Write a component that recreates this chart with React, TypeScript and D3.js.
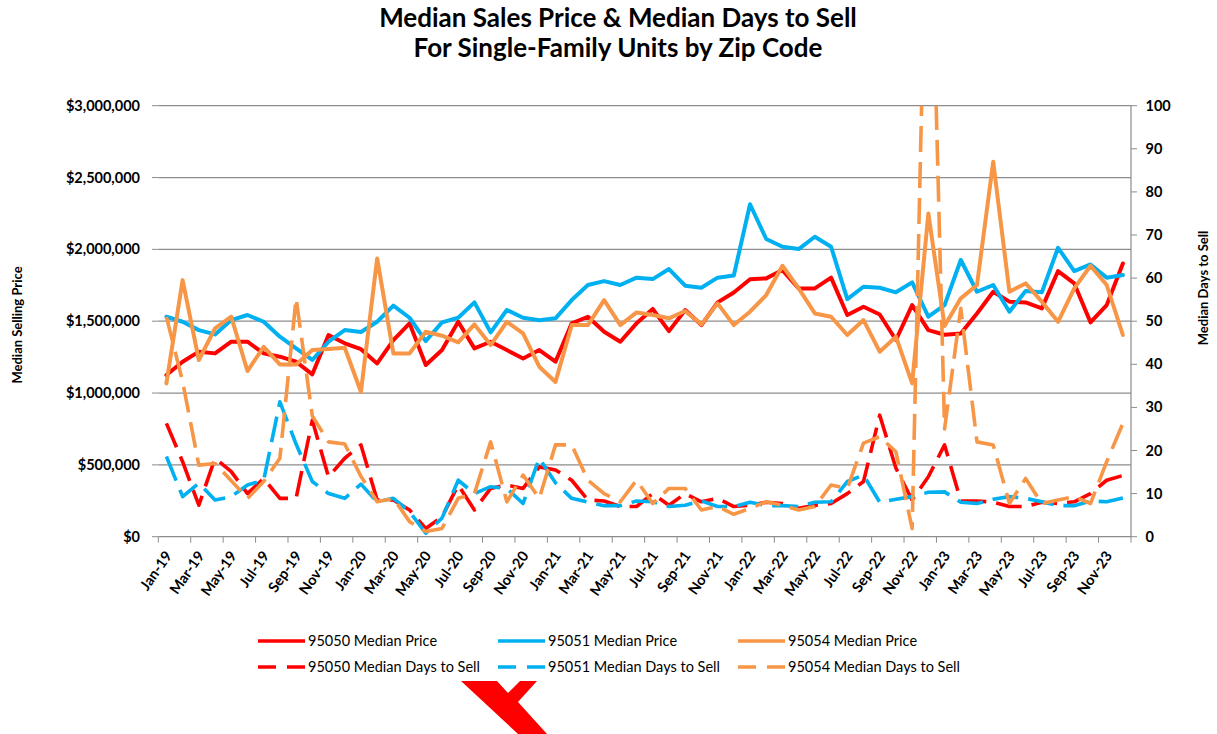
import React, { useEffect, useRef } from "react";
import * as d3 from "d3";

const MONTHS = ["Jan", "Feb", "Mar", "Apr", "May", "Jun", "Jul", "Aug", "Sep", "Oct", "Nov", "Dec"];
const YEARS = ["19", "20", "21", "22", "23"];
const categories = YEARS.flatMap((y) => MONTHS.map((m) => `${m}-${y}`));

const price95050 = [
  1125000, 1218000, 1288000, 1276000, 1357000, 1357000, 1276000, 1253000, 1218000, 1130000,
  1404000, 1346000, 1305000, 1206000, 1369000, 1485000, 1195000, 1299000, 1496000, 1311000,
  1357000, 1299000, 1241000, 1299000, 1218000, 1485000, 1531000, 1427000, 1357000, 1485000,
  1585000, 1431000, 1578000, 1473000, 1631000, 1700000, 1792000, 1798000, 1856000, 1728000,
  1728000, 1803000, 1543000, 1601000, 1547000, 1369000, 1612000, 1438000, 1406000, 1415000,
  1554000, 1705000, 1636000, 1631000, 1589000, 1849000, 1763000, 1492000, 1612000, 1902000,
];
const price95051 = [
  1531000, 1496000, 1438000, 1408000, 1508000, 1543000, 1496000, 1392000, 1311000, 1230000,
  1357000, 1438000, 1425000, 1496000, 1608000, 1524000, 1362000, 1492000, 1524000, 1631000,
  1422000, 1578000, 1524000, 1507000, 1520000, 1647000, 1752000, 1779000, 1752000, 1803000,
  1793000, 1863000, 1747000, 1733000, 1803000, 1818000, 2314000, 2072000, 2018000, 2002000,
  2088000, 2018000, 1654000, 1740000, 1733000, 1701000, 1770000, 1531000, 1612000, 1926000,
  1705000, 1752000, 1566000, 1710000, 1701000, 2011000, 1849000, 1895000, 1803000, 1821000,
];
const price95054 = [
  1067000, 1786000, 1230000, 1450000, 1531000, 1153000, 1322000, 1199000, 1199000, 1299000,
  1306000, 1315000, 1009000, 1937000, 1276000, 1276000, 1427000, 1399000, 1353000, 1478000,
  1334000, 1496000, 1415000, 1183000, 1077000, 1473000, 1473000, 1647000, 1473000, 1561000,
  1543000, 1520000, 1571000, 1478000, 1624000, 1473000, 1566000, 1682000, 1886000, 1728000,
  1554000, 1531000, 1404000, 1508000, 1288000, 1392000, 1067000, 2250000, 1466000, 1659000,
  1752000, 2610000, 1705000, 1763000, 1636000, 1496000, 1728000, 1886000, 1752000, 1404000,
];
const days95050 = [
  26.3, 17.4, 7.3, 18.2, 15.1, 10, 13.5, 8.9, 8.9, 27,
  13.9, 18.2, 21.3, 8.5, 8.5, 6.2, 1.9, 4.6, 12, 6.2,
  11.2, 12, 11.2, 16.2, 15.5, 13.1, 8.5, 8.3, 7, 7,
  10, 7.3, 10, 8.1, 8.9, 7, 7.3, 8, 7.7, 6.6,
  7.3, 7.7, 10, 12.8, 28.2, 15.9, 8.5, 13.9, 21.3, 8.3,
  8.3, 8, 7, 7, 8, 7.7, 8.1, 10, 13.1, 14.2,
];
const days95051 = [
  18.6, 9.3, 12.4, 8.5, 9.3, 12, 13.1, 31.3, 21.5, 12.8,
  10, 8.9, 12.2, 8.1, 8.9, 5.8, 0.8, 4.3, 13.1, 10,
  11.6, 11.2, 7.7, 18.2, 12.5, 8.9, 8, 7.2, 7.2, 8.3,
  8.1, 7, 7.3, 8.3, 7, 7, 8, 7.2, 7.2, 7,
  8, 8.1, 12.8, 14.3, 8, 8.7, 9.3, 10.3, 10.4, 8,
  7.7, 8.7, 9.3, 8.9, 8.1, 7.2, 7.2, 8.3, 8.1, 9,
];
const days95054 = [
  51, 36, 16.6, 17, 13, 8.9, 12.8, 18.2, 55.3, 28,
  22, 21.5, 14, 8.1, 8.9, 3.5, 1.2, 1.9, 8.9, 10,
  22, 8.1, 14.3, 8.9, 21.3, 21.3, 13.1, 10, 8.1, 13.1,
  7.7, 11.2, 11.2, 6.2, 7, 5.2, 6.6, 8.1, 7.3, 6.2,
  7, 12, 11.2, 21.7, 23.2, 19.7, 1.9, 170, 25, 53,
  22, 21.3, 7.7, 13.5, 7.7, 8.5, 9.3, 7.7, 17.4, 26.3,
];

const priceTicks = [0, 500000, 1000000, 1500000, 2000000, 2500000, 3000000];
const dayTicks = [0, 10, 20, 30, 40, 50, 60, 70, 80, 90, 100];

const series = [
  { name: "95050 Median Price", values: price95050, color: "#ff0000", axis: "price" },
  { name: "95051 Median Price", values: price95051, color: "#00b0f0", axis: "price" },
  { name: "95054 Median Price", values: price95054, color: "#f79646", axis: "price" },
  { name: "95050 Median Days to Sell", values: days95050, color: "#ff0000", axis: "days" },
  { name: "95051 Median Days to Sell", values: days95051, color: "#00b0f0", axis: "days" },
  { name: "95054 Median Days to Sell", values: days95054, color: "#f79646", axis: "days" },
];

const W = 1217;
const H = 734;
const FONT = "Lato, 'Open Sans', sans-serif";

export default function App() {
  const ref = useRef<SVGSVGElement>(null);

  useEffect(() => {
    const svg = d3.select(ref.current);
    svg.selectAll("*").remove();

    const left = 158.3, right = 1131, top = 105.7, bottom = 536.7;

    const x = d3.scaleBand().domain(categories).range([left, right]).padding(0);
    const xc = (i: number) => (x(categories[i]) as number) + x.bandwidth() / 2;
    const yPrice = d3.scaleLinear().domain([0, 3000000]).range([bottom, top]);
    const yDays = d3.scaleLinear().domain([0, 100]).range([bottom, top]);

    svg.append("rect").attr("width", W).attr("height", H).attr("fill", "#fff");

    // title
    const title = svg.append("text")
      .attr("text-anchor", "middle")
      .style("font-family", FONT).style("font-weight", 700).style("font-size", "26px");
    title.append("tspan").attr("x", 618).attr("y", 27).text("Median Sales Price & Median Days to Sell");
    title.append("tspan").attr("x", 618).attr("y", 57).text("For Single-Family Units by Zip Code");

    // gridlines + left ticks
    const grid = svg.append("g");
    priceTicks.forEach((t) => {
      const y = yPrice(t);
      if (t > 0) {
        grid.append("line").attr("x1", left).attr("x2", right).attr("y1", y).attr("y2", y)
          .attr("stroke", "#8c8c8c").attr("stroke-width", 1.2);
      }
      grid.append("line").attr("x1", 152).attr("x2", left).attr("y1", y).attr("y2", y)
        .attr("stroke", "#8c8c8c").attr("stroke-width", 1);
      grid.append("text").attr("x", 140).attr("y", y).attr("dy", "0.35em")
        .attr("text-anchor", "end")
        .style("font-family", FONT).style("font-weight", 700).style("font-size", "14.5px")
        .text(d3.format("$,")(t));
    });

    // right axis
    svg.append("line").attr("x1", right).attr("x2", right).attr("y1", top).attr("y2", bottom)
      .attr("stroke", "#8c8c8c").attr("stroke-width", 1.2);
    dayTicks.forEach((t) => {
      const y = yDays(t);
      svg.append("line").attr("x1", right).attr("x2", right + 6).attr("y1", y).attr("y2", y)
        .attr("stroke", "#8c8c8c").attr("stroke-width", 1);
      svg.append("text").attr("x", 1145.5).attr("y", y).attr("dy", "0.35em")
        .style("font-family", FONT).style("font-weight", 700).style("font-size", "14.5px")
        .text(t);
    });

    // bottom axis, a label every second month
    svg.append("line").attr("x1", left).attr("x2", right).attr("y1", bottom).attr("y2", bottom)
      .attr("stroke", "#8c8c8c").attr("stroke-width", 1.2);
    categories.forEach((c, i) => {
      if (i % 2 !== 0) return;
      const bx = x(c) as number;
      svg.append("line").attr("x1", bx).attr("x2", bx).attr("y1", bottom).attr("y2", bottom + 6)
        .attr("stroke", "#8c8c8c").attr("stroke-width", 1);
      const cx = xc(i) + 2;
      svg.append("text")
        .attr("transform", `translate(${cx},${bottom + 16}) rotate(-55)`)
        .attr("text-anchor", "end").attr("dy", "0.35em")
        .style("font-family", FONT).style("font-weight", 700).style("font-size", "14.5px")
        .text(c);
    });
    svg.append("line").attr("x1", right).attr("x2", right).attr("y1", bottom).attr("y2", bottom + 6)
      .attr("stroke", "#8c8c8c").attr("stroke-width", 1);

    // axis titles
    svg.append("text").attr("transform", "translate(22,325) rotate(-90)")
      .attr("text-anchor", "middle")
      .style("font-family", FONT).style("font-weight", 700).style("font-size", "13px")
      .text("Median Selling Price");
    svg.append("text").attr("transform", "translate(1208,288) rotate(-90)")
      .attr("text-anchor", "middle")
      .style("font-family", FONT).style("font-weight", 700).style("font-size", "13px")
      .text("Median Days to Sell");

    // lines, clipped to the plot area (the 95054 spike runs past 100)
    svg.append("clipPath").attr("id", "plot-clip").append("rect")
      .attr("x", left - 5).attr("y", top).attr("width", right - left + 10).attr("height", bottom - top + 10);
    const plot = svg.append("g").attr("clip-path", "url(#plot-clip)");
    series.forEach((s) => {
      const ys = s.axis === "price" ? yPrice : yDays;
      const line = d3.line<number>().x((_, i) => xc(i)).y((d) => ys(d));
      plot.append("path").datum(s.values).attr("d", line)
        .attr("fill", "none").attr("stroke", s.color)
        .attr("stroke-width", s.axis === "price" ? 4 : 3.6)
        .attr("stroke-linejoin", "round")
        .attr("stroke-linecap", s.axis === "price" ? "round" : "butt")
        .attr("stroke-dasharray", s.axis === "price" ? null : "26 10");
    });

    // legend
    const colX = [258, 498, 738];
    const rowY = [641, 667];
    series.forEach((s, i) => {
      const lx = colX[i % 3];
      const ly = rowY[Math.floor(i / 3)];
      svg.append("line").attr("x1", lx).attr("x2", lx + 47).attr("y1", ly).attr("y2", ly)
        .attr("stroke", s.color).attr("stroke-width", 3.5)
        .attr("stroke-dasharray", s.axis === "price" ? null : "18 11");
      svg.append("text").attr("x", lx + 50).attr("y", ly).attr("dy", "0.35em")
        .style("font-family", FONT).style("font-size", "14.5px")
        .text(s.name);
    });

    // logo mark at the bottom
    svg.append("polygon")
      .attr("points", "461,681 497,681 508,693 520,681 537,681 518,702 547,734 518,734")
      .attr("fill", "#ff0000");
  }, []);

  return <svg ref={ref} width={W} height={H} style={{ position: "absolute", left: 0, top: 0 }} />;
}
